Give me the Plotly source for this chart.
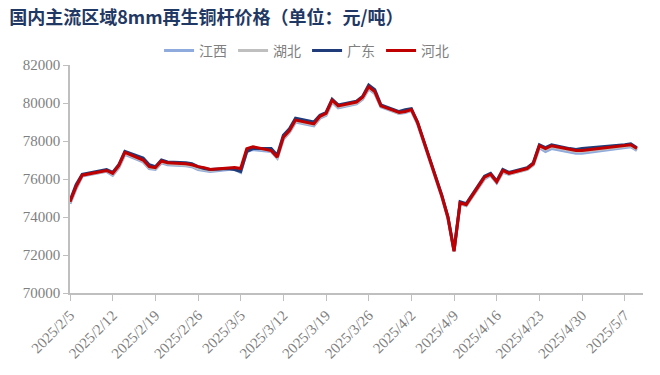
import plotly.graph_objects as go

dates = [
    "2025-02-05", "2025-02-06", "2025-02-07", "2025-02-10", "2025-02-11", "2025-02-12", "2025-02-13", "2025-02-14",
    "2025-02-17", "2025-02-18", "2025-02-19", "2025-02-20", "2025-02-21", "2025-02-24", "2025-02-25", "2025-02-26",
    "2025-02-27", "2025-02-28", "2025-03-03", "2025-03-04", "2025-03-05", "2025-03-06", "2025-03-07", "2025-03-10",
    "2025-03-11", "2025-03-12", "2025-03-13", "2025-03-14", "2025-03-17", "2025-03-18", "2025-03-19", "2025-03-20",
    "2025-03-21", "2025-03-24", "2025-03-25", "2025-03-26", "2025-03-27", "2025-03-28", "2025-03-31", "2025-04-01",
    "2025-04-02", "2025-04-03", "2025-04-07", "2025-04-08", "2025-04-09", "2025-04-10", "2025-04-11", "2025-04-14",
    "2025-04-15", "2025-04-16", "2025-04-17", "2025-04-18", "2025-04-21", "2025-04-22", "2025-04-23", "2025-04-24",
    "2025-04-25", "2025-04-28", "2025-04-29", "2025-04-30", "2025-05-06", "2025-05-07", "2025-05-08", "2025-05-09",
]

jiangxi = [
    74700, 75500, 76150, 76350, 76400, 76200, 76600, 77300,
    76900, 76550, 76500, 76850, 76750, 76700, 76650, 76500,
    76450, 76400, 76500, 76500, 76350, 77450, 77550, 77450,
    77100, 78100, 78450, 79000, 78800, 79200, 79350, 80050,
    79750, 79950, 80200, 80750, 80500, 79800, 79450, 79500,
    79600, 78900, 75050, 73900, 72200, 74700, 74600, 76000,
    76200, 75800, 76350, 76250, 76500, 76750, 77650, 77450,
    77600, 77400, 77350, 77350, 77600, 77650, 77700, 77500,
]

hubei = [
    74750, 75550, 76200, 76350, 76450, 76250, 76650, 77350,
    76950, 76600, 76550, 76900, 76800, 76750, 76700, 76550,
    76500, 76450, 76550, 76550, 76450, 77500, 77650, 77500,
    77150, 78150, 78500, 79050, 78850, 79250, 79400, 80100,
    79800, 80000, 80250, 80800, 80550, 79850, 79450, 79550,
    79600, 78950, 75100, 73950, 72200, 74750, 74600, 76050,
    76250, 75850, 76400, 76250, 76500, 76750, 77700, 77550,
    77700, 77500, 77450, 77450, 77650, 77700, 77750, 77550,
]

guangdong = [
    74850, 75700, 76250, 76450, 76500, 76350, 76750, 77450,
    77100, 76750, 76650, 77000, 76900, 76850, 76800, 76650,
    76550, 76500, 76550, 76500, 76400, 77450, 77600, 77600,
    77250, 78300, 78650, 79200, 79000, 79350, 79500, 80200,
    79900, 80100, 80350, 80950, 80700, 79900, 79550, 79650,
    79700, 79000, 75150, 74000, 72250, 74800, 74700, 76150,
    76300, 75900, 76500, 76350, 76600, 76850, 77800, 77650,
    77800, 77600, 77550, 77600, 77750, 77800, 77850, 77650,
]

hebei = [
    74800, 75600, 76200, 76400, 76450, 76300, 76700, 77400,
    77000, 76650, 76600, 76950, 76850, 76800, 76750, 76650,
    76600, 76500, 76600, 76600, 76550, 77600, 77700, 77500,
    77150, 78200, 78550, 79100, 78900, 79300, 79450, 80150,
    79850, 80050, 80300, 80850, 80600, 79850, 79500, 79550,
    79650, 79000, 75100, 74000, 72200, 74750, 74650, 76100,
    76250, 75850, 76450, 76300, 76550, 76800, 77750, 77600,
    77750, 77550, 77500, 77500, 77700, 77750, 77800, 77600,
]

series_names = ["江西", "湖北", "广东", "河北"]
series_values = [jiangxi, hubei, guangdong, hebei]
series_colors = ["#8FAADC", "#BFBFBF", "#1F3B7A", "#C00000"]

tick_dates = ["2025-02-05", "2025-02-12", "2025-02-19", "2025-02-26", "2025-03-05", "2025-03-12", "2025-03-19",
              "2025-03-26", "2025-04-02", "2025-04-09", "2025-04-16", "2025-04-23", "2025-04-30", "2025-05-07"]
tick_labels = ["2025/2/5", "2025/2/12", "2025/2/19", "2025/2/26", "2025/3/5", "2025/3/12", "2025/3/19",
               "2025/3/26", "2025/4/2", "2025/4/9", "2025/4/16", "2025/4/23", "2025/4/30", "2025/5/7"]
y_ticks = [70000, 72000, 74000, 76000, 78000, 80000, 82000]

fig = go.Figure()
for name, vals, col in zip(series_names, series_values, series_colors):
    fig.add_trace(go.Scatter(x=dates, y=vals, mode="lines", name=name,
                             line=dict(color=col, width=3)))

axis_font = dict(family="Liberation Serif, Times New Roman, serif", size=15, color="#7F7F7F")

fig.update_layout(
    width=660, height=375,
    margin=dict(l=70, r=17, t=65, b=82, autoexpand=False),
    paper_bgcolor="white", plot_bgcolor="white",
    title=dict(text="国内主流区域8mm再生铜杆价格（单位：元/吨）", xref="container", yref="container",
               x=0.014, xanchor="left", y=0.953, yanchor="middle",
               font=dict(family="Noto Sans CJK SC", size=18, color="#1F3864", weight="bold")),
    legend=dict(orientation="h", xref="container", x=0.241, xanchor="left", y=1.062, yanchor="middle",
                font=dict(family="Noto Sans CJK SC", size=14, color="#7F7F7F"),
                entrywidth=29, entrywidthmode="pixels", bgcolor="rgba(0,0,0,0)"),
    showlegend=True,
)
fig.update_xaxes(type="date", range=["2025-02-05", "2025-05-10"], tickvals=tick_dates, ticktext=tick_labels,
                 tickangle=-45, showgrid=False, showline=True, linecolor="#BFBFBF", linewidth=1.5,
                 ticks="outside", ticklen=6, tickcolor="#BFBFBF", tickfont=axis_font, zeroline=False,
                 automargin=False)
fig.update_yaxes(range=[70000, 82000], tickvals=y_ticks, tickformat="d", showgrid=False, showline=True,
                 linecolor="#BFBFBF", linewidth=1.5, ticks="outside", ticklen=5, tickcolor="#BFBFBF",
                 tickfont=axis_font, zeroline=False, automargin=False)

fig.write_html("out.html", config={"displayModeBar": False},
               post_script="document.body.style.margin='0';")
